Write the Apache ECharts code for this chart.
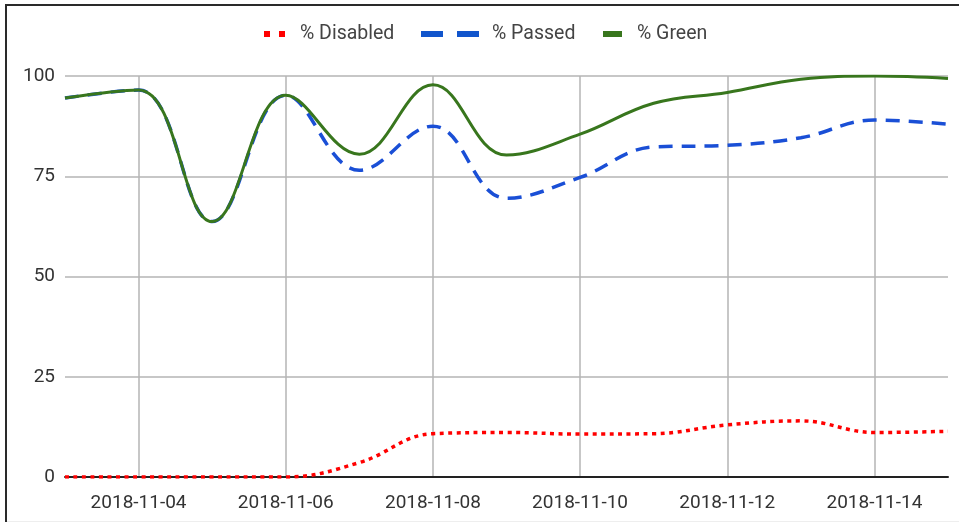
<!DOCTYPE html>
<html>
<head>
<meta charset="utf-8">
<script src="https://cdn.jsdelivr.net/npm/echarts@6/dist/echarts.min.js"></script>
<style>
html,body{margin:0;padding:0;background:#fff;}
#chart{width:959px;height:522px;}
</style>
</head>
<body>
<div id="chart"></div>
<script>
const dates = ['2018-11-03','2018-11-04','2018-11-05','2018-11-06','2018-11-07','2018-11-08','2018-11-09','2018-11-10','2018-11-11','2018-11-12','2018-11-13','2018-11-14','2018-11-15'];
const disabled = [0, 0, 0, 0, 3.6, 10.8, 11.1, 10.7, 10.8, 13, 14, 11.1, 11.4];
const passed = [94.5, 96.5, 63.7, 95.2, 76.5, 87.5, 69.5, 74.7, 82.3, 82.7, 84.6, 89, 88];
const green = [94.5, 96.5, 63.7, 95.2, 80.5, 97.8, 80.3, 85.5, 93.2, 95.9, 99.2, 100, 99.4];
const yTicks = [0, 25, 50, 75, 100];

const FONT = 'Roboto';
const SMOOTH = 0.4;
const chart = echarts.init(document.getElementById('chart'), null, {renderer: 'canvas'});

function legendFor(name, color, left, width, icon, pad) {
  return {
    data: [{name: name, icon: icon, itemStyle: {color: color, borderWidth: 0}}],
    left: left, top: 24, padding: 0,
    itemWidth: width, itemHeight: 6,
    itemStyle: {borderWidth: 0},
    selectedMode: false,
    textStyle: {fontFamily: FONT, fontSize: 19.5, color: '#444', padding: [0, 0, 0, pad]}
  };
}

chart.setOption({
  animation: false,
  backgroundColor: '#fff',
  grid: {left: 65, right: 11, top: 76, bottom: 45, containLabel: false},
  legend: [
    legendFor('% Disabled', '#ff0000', 264, 21, 'path://M0,0h6v6h-6z M15,0h6v6h-6z', 10),
    legendFor('% Passed', '#1155cc', 421, 58, 'path://M0,0h22v6h-22z M36,0h22v6h-22z', 8),
    legendFor('% Green', '#38761d', 603, 19, 'rect', 10)
  ],
  xAxis: {
    type: 'category',
    data: dates,
    boundaryGap: false,
    axisLine: {show: true, onZero: false, lineStyle: {color: '#222', width: 2}},
    axisTick: {show: false},
    axisLabel: {
      interval: function (i) { return i % 2 === 1; },
      fontFamily: FONT, fontSize: 19, color: '#333', margin: 17
    },
    splitLine: {
      show: true,
      interval: function (i) { return i % 2 === 1; },
      lineStyle: {color: '#b5b5b5', width: 1.5}
    }
  },
  yAxis: {
    type: 'value',
    min: yTicks[0], max: yTicks[yTicks.length - 1], interval: 25,
    axisLine: {show: false},
    axisTick: {show: false},
    axisLabel: {fontFamily: FONT, fontSize: 19, color: '#333', margin: 10},
    splitLine: {show: true, lineStyle: {color: '#b5b5b5', width: 1.5}}
  },
  series: [
    {
      name: '% Disabled', type: 'line', data: disabled, smooth: SMOOTH,
      showSymbol: false, symbol: 'none', z: 6,
      color: '#ff0000',
      lineStyle: {color: '#ff0000', width: 3.5, type: [4, 4.5]}
    },
    {
      name: '% Passed', type: 'line', data: passed, smooth: SMOOTH,
      showSymbol: false, symbol: 'none', z: 3,
      color: '#1155cc',
      lineStyle: {color: '#1a4fd6', width: 3.5, type: [14, 9]}
    },
    {
      name: '% Green', type: 'line', data: green, smooth: SMOOTH,
      showSymbol: false, symbol: 'none', z: 4,
      color: '#38761d',
      lineStyle: {color: '#38761d', width: 3}
    }
  ],
  graphic: [
    {type: 'line', silent: true, shape: {x1: 5, y1: 5, x2: 959, y2: 5}, style: {stroke: '#2a2a2a', lineWidth: 2}},
    {type: 'line', silent: true, shape: {x1: 6, y1: 4, x2: 6, y2: 522}, style: {stroke: '#2a2a2a', lineWidth: 2}},
    {type: 'line', silent: true, shape: {x1: 7, y1: 521.5, x2: 959, y2: 521.5}, style: {stroke: '#eeeeee', lineWidth: 1}}
  ]
});
</script>
</body>
</html>
